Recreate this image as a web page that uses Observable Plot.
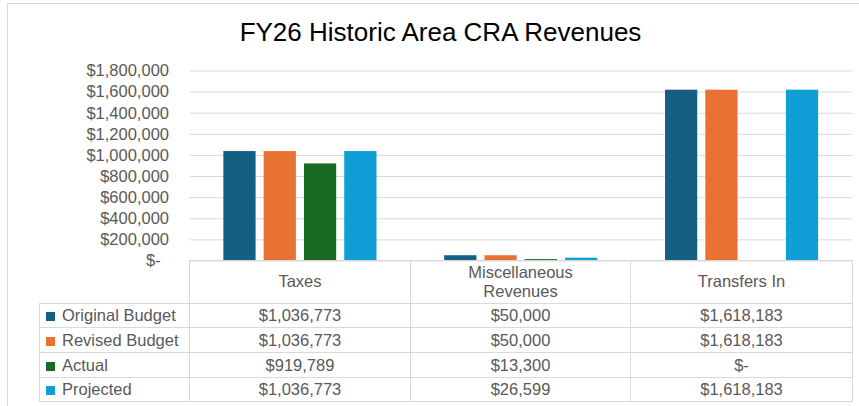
<!DOCTYPE html>
<html>
<head>
<meta charset="utf-8">
<script src="https://cdn.jsdelivr.net/npm/d3@7"></script>
<script src="https://cdn.jsdelivr.net/npm/@observablehq/plot@0.6"></script>
<style>
  html, body { margin: 0; padding: 0; background: #fff; overflow: hidden; }
  #wrap { position: relative; width: 859px; height: 406px; overflow: hidden; font-family: "Liberation Sans", Arial, sans-serif; }
  #frame { position: absolute; left: 7px; top: 3px; width: 900px; height: 500px; border: 1px solid #D9D9D9; box-sizing: border-box; }
  #title { position: absolute; left: 0; width: 881px; top: 17px; text-align: center; font-size: 26px; color: #000; line-height: 30px; white-space: nowrap; }
  #chart { position: absolute; left: 0; top: 0; }
  #chart svg { display: block; }
  #tbl { position: absolute; left: 39px; top: 260px; border-collapse: collapse; table-layout: fixed; font-size: 16.5px; color: #595959; }
  #tbl td { border: 1px solid #D9D9D9; padding: 0; text-align: center; vertical-align: middle; white-space: nowrap; overflow: hidden; line-height: 18px; }
  #tbl td.corner { border: none; }
  #tbl td.head { line-height: 19px; white-space: normal; }
  #tbl td.head div { max-width: 150px; margin: 0 auto; }
  #tbl td.leg { text-align: left; padding-left: 6px; }
  #tbl td.leg span.key { display: inline-block; width: 9px; height: 9px; margin-right: 7px; vertical-align: 0px; }
</style>
</head>
<body>
<div id="wrap">
  <div id="frame"></div>
  <div id="title"></div>
  <div id="chart"></div>
  <table id="tbl"></table>
</div>
<script>
const chartTitle = "FY26 Historic Area CRA Revenues";
const categories = ["Taxes", "Miscellaneous Revenues", "Transfers In"];
const series = ["Original Budget", "Revised Budget", "Actual", "Projected"];
const originalBudget = [1036773, 50000, 1618183];
const revisedBudget = [1036773, 50000, 1618183];
const actual = [919789, 13300, 0];
const projected = [1036773, 26599, 1618183];
const colors = ["#156082", "#E97132", "#196B24", "#0F9ED5"];
const yTicks = [0, 200000, 400000, 600000, 800000, 1000000, 1200000, 1400000, 1600000, 1800000];

const valuesBySeries = [originalBudget, revisedBudget, actual, projected];
const data = series.flatMap((s, i) => categories.map((c, j) => ({category: c, series: s, value: valuesBySeries[i][j]})));

const money = v => v === 0 ? "$-" : "$" + d3.format(",")(v);
const tickFmt = v => v === 0 ? "$-\u2002" : "$" + d3.format(",")(v);

document.getElementById("title").textContent = chartTitle;

const plot = Plot.plot({
  width: 859,
  height: 262,
  marginTop: 70.5,
  marginBottom: 1.5,
  marginLeft: 189.5,
  marginRight: 7,
  style: {fontFamily: "'Liberation Sans', Arial, sans-serif", fontSize: "16.5px", color: "#595959", background: "transparent", overflow: "visible"},
  fx: {domain: categories, padding: 0, round: false, axis: null, label: null},
  x: {domain: series, paddingInner: 0.2, paddingOuter: 0.84, round: false, axis: null},
  y: {domain: [0, 1800000], ticks: yTicks, tickFormat: tickFmt, tickSize: 0, tickPadding: 21, label: null},
  color: {domain: series, range: colors},
  marks: [
    Plot.ruleY(yTicks, {stroke: "#D9D9D9", strokeWidth: 1}),
    Plot.barY(data, {fx: "category", x: "series", y: "value", fill: "series"})
  ]
});
document.getElementById("chart").appendChild(plot);

// data table
const tbl = document.getElementById("tbl");
const colgroup = document.createElement("colgroup");
[150, 221, 220, 222].forEach(w => { const c = document.createElement("col"); c.style.width = w + "px"; colgroup.appendChild(c); });
tbl.appendChild(colgroup);
const head = document.createElement("tr");
head.style.height = "42.5px";
const corner = document.createElement("td"); corner.className = "corner"; head.appendChild(corner);
categories.forEach(c => { const td = document.createElement("td"); td.className = "head"; const d = document.createElement("div"); d.textContent = c; td.appendChild(d); head.appendChild(td); });
tbl.appendChild(head);
const rowH = [24.5, 25, 24.5, 24.5];
series.forEach((s, i) => {
  const tr = document.createElement("tr");
  tr.style.height = rowH[i] + "px";
  const lg = document.createElement("td"); lg.className = "leg";
  const key = document.createElement("span"); key.className = "key"; key.style.background = colors[i];
  lg.appendChild(key); lg.appendChild(document.createTextNode(s));
  tr.appendChild(lg);
  valuesBySeries[i].forEach(v => { const td = document.createElement("td"); td.textContent = money(v); tr.appendChild(td); });
  tbl.appendChild(tr);
});
</script>
</body>
</html>
